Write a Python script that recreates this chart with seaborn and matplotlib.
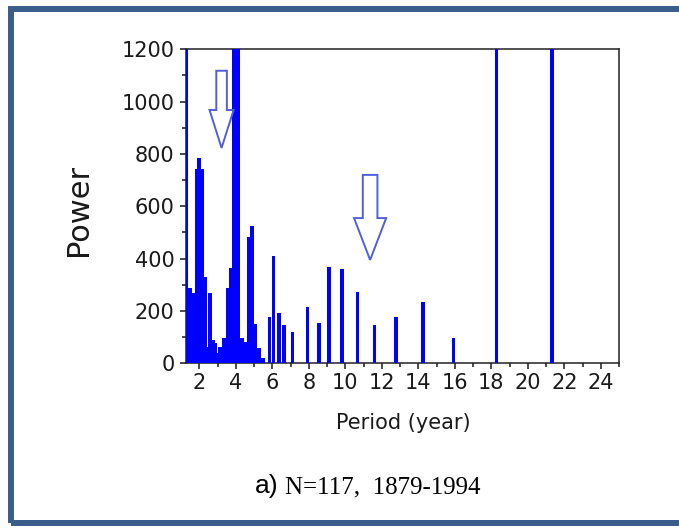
import numpy as np
import pandas as pd
import matplotlib
matplotlib.use("Agg")
import matplotlib.pyplot as plt
import seaborn as sns
from matplotlib.patches import FancyArrow, Rectangle
from matplotlib.ticker import MultipleLocator

# ---- data ----
period = [1.27, 1.43, 1.50, 1.68, 1.84, 1.99, 2.17, 2.32, 2.44, 2.60, 2.76, 2.87,
          2.97, 3.12, 3.26, 3.37, 3.54, 3.71, 3.87, 4.00, 4.13, 4.34, 4.52, 4.69,
          4.87, 5.07, 5.27, 5.48, 5.85, 6.06, 6.35, 6.65, 7.10, 7.93, 8.57, 9.09,
          9.83, 10.67, 11.61, 12.79, 14.26, 15.93, 18.29, 21.33]
power = [1500, 286, 286, 270, 743, 785, 743, 328, 61, 269, 89, 79,
         38, 61, 25, 98, 286, 364, 1500, 1500, 1500, 98, 81, 483,
         524, 152, 60, 19, 176, 410, 191, 148, 118, 214, 155, 367,
         359, 271, 148, 177, 234, 96, 1500, 1500]
x_ticks = [2, 4, 6, 8, 10, 12, 14, 16, 18, 20, 22, 24]
y_ticks = [0, 200, 400, 600, 800, 1000, 1200]
x_label = "Period (year)"
y_label = "Power"
caption_label = "a)"
caption_text = "N=117,  1879-1994"

# ---- style ----
sns.set_style("ticks")
plt.rcParams['font.family'] = ['DejaVu Sans']

W, H = 679, 528
fig = plt.figure(figsize=(W / 100, H / 100), dpi=100)
ax = fig.add_axes([186 / W, 1 - 363.3 / H, (619 - 186) / W, (363.3 - 49.3) / H])

df = pd.DataFrame({"Period": period, "Power": power})
bar_w = 0.2
min_gap = np.min(np.diff(np.unique(df["Period"].values)))
sns.barplot(data=df, x="Period", y="Power", native_scale=True,
            width=bar_w / min_gap, color="#0000FF", saturation=1,
            errorbar=None, linewidth=0, ax=ax)
for p in ax.patches:
    p.set_zorder(3)

ax.set_xlim(1.27, 25.0)
ax.set_ylim(0, 1200)
ax.set_xticks(x_ticks)
ax.set_xticklabels([str(t) for t in x_ticks])
ax.xaxis.set_minor_locator(MultipleLocator(1))
ax.set_yticks(y_ticks)
ax.set_yticklabels([str(t) for t in y_ticks])
ax.yaxis.set_minor_locator(MultipleLocator(100))
ax.tick_params(which='major', direction='out', length=4.3, width=1.1,
               labelsize=15, pad=3, colors='#1a1a1a')
ax.tick_params(which='minor', direction='out', length=2.8, width=1.1, colors='#1a1a1a')
ax.tick_params(axis='y', pad=4)
for s in ax.spines.values():
    s.set_visible(True)
    s.set_linewidth(1.1)
    s.set_color('#222222')

ax.set_xlabel(x_label, fontsize=15, color='#1a1a1a')
ax.set_ylabel(y_label, fontsize=22, color='#1a1a1a')
ax.xaxis.set_label_coords(0.501, -0.158)
ax.yaxis.set_label_coords(-0.215, 0.49)

# hollow arrows
arrow_col = '#5060D8'
ax.add_patch(FancyArrow(3.22, 1118, 0, 823 - 1118, width=0.58, head_width=1.32,
                        head_length=145, length_includes_head=True, fill=False,
                        edgecolor=arrow_col, lw=1.4, zorder=4))
ax.add_patch(FancyArrow(11.36, 720, 0, 395 - 720, width=0.80, head_width=1.76,
                        head_length=160, length_includes_head=True, fill=False,
                        edgecolor=arrow_col, lw=1.4, zorder=4))

# caption
fig.text(255 / W, 1 - 493 / H, caption_label, ha='left', va='baseline',
         fontsize=19, family=['Liberation Sans', 'DejaVu Sans'], color='black')
fig.text(285 / W, 1 - 493 / H, caption_text, ha='left', va='baseline',
         fontsize=18, family=['Liberation Serif', 'DejaVu Serif'], color='black')

# frame around figure (right side lies beyond the canvas edge)
fig.patches.append(Rectangle((11 / W, 1 - 523 / H), (686 - 11) / W, (523 - 9) / H,
                             transform=fig.transFigure, fill=False,
                             edgecolor='#3A5D8C', lw=4.3))

fig.savefig("out.png", dpi=100)
